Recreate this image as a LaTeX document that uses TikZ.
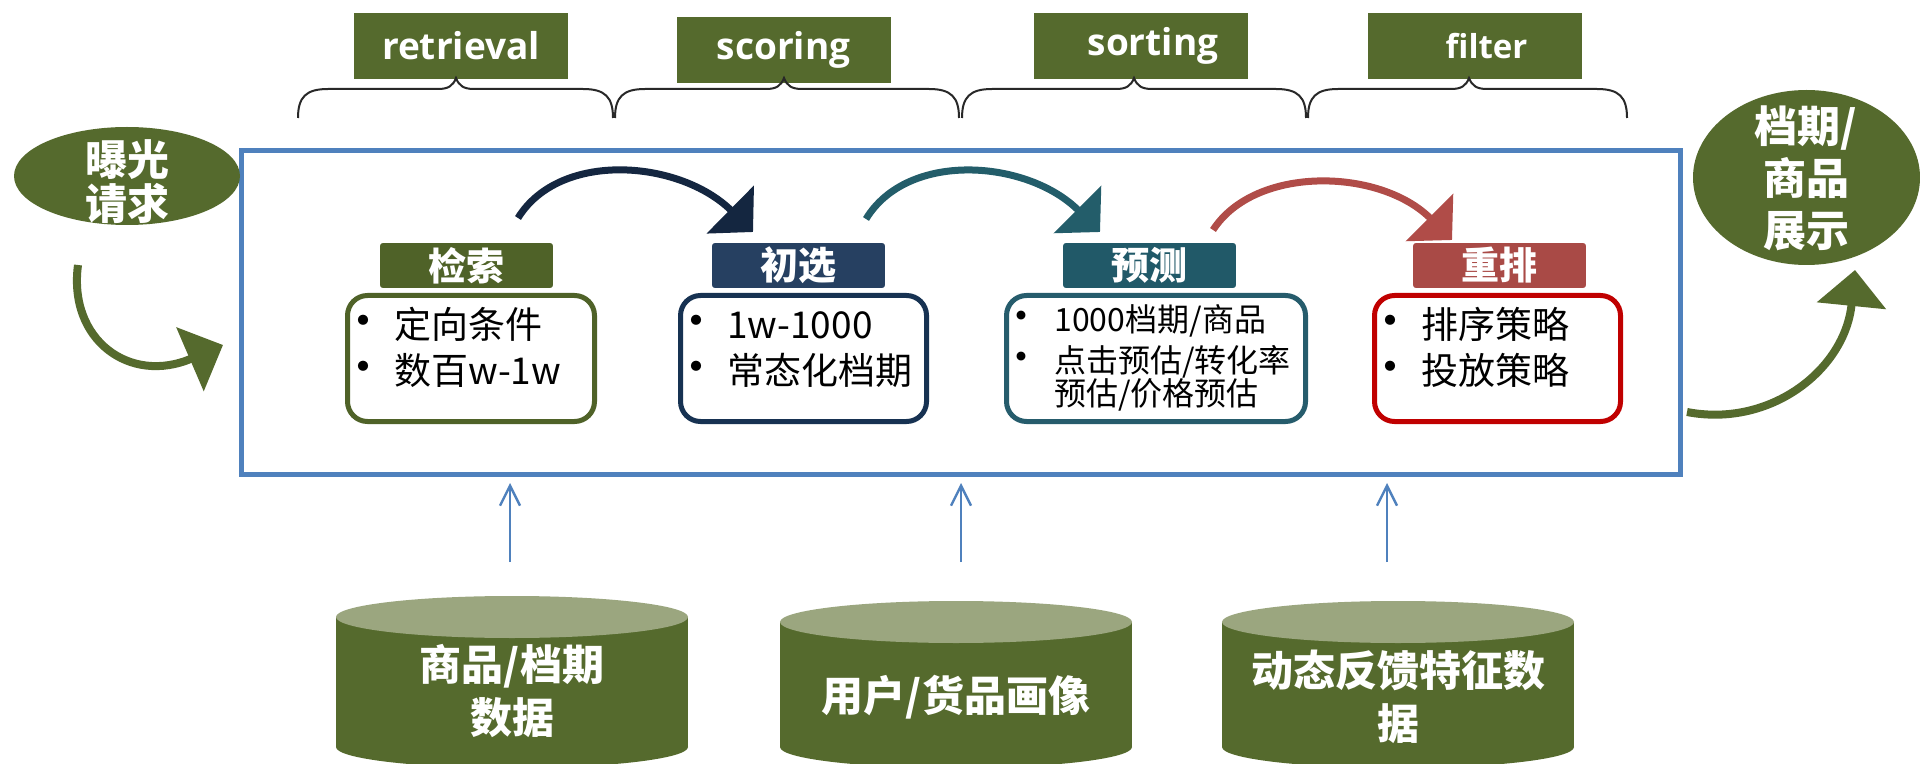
\documentclass[tikz,border=0pt]{standalone}
\usepackage{fontspec}
\setmainfont{Noto Sans CJK SC}
\newfontfamily\tagfont{Open Sans}
\usetikzlibrary{arrows.meta,shapes.geometric,calc}

\definecolor{olive}{RGB}{85,106,45}
\definecolor{hdrolive}{RGB}{79,98,40}
\definecolor{cyltop}{RGB}{155,166,127}
\definecolor{frameblue}{RGB}{79,129,189}
\definecolor{navyhdr}{RGB}{38,64,97}
\definecolor{navyline}{RGB}{23,50,82}
\definecolor{navyarc}{RGB}{20,38,64}
\definecolor{tealhdr}{RGB}{33,89,104}
\definecolor{tealline}{RGB}{38,92,108}
\definecolor{tealarc}{RGB}{35,93,106}
\definecolor{redhdr}{RGB}{169,74,70}
\definecolor{redline}{RGB}{192,0,0}
\definecolor{redarc}{RGB}{176,76,72}
\definecolor{braceg}{RGB}{40,40,40}

\newcommand{\topbrace}[3]{%
 \draw[bracepath] (#1,118) .. controls (#1,97) and ({#1+8},89) .. ({#1+30},89) -- ({#2-18},89) .. controls ({#2-8},89) and ({#2-3},86) .. (#2,78) .. controls ({#2+3},86) and ({#2+8},89) .. ({#2+18},89) -- ({#3-30},89) .. controls ({#3-8},89) and (#3,97) .. (#3,118);}

\newcommand{\datacyl}[3]{%
 \fill[olive] ({#1-#2},#3) rectangle ({#1+#2},747);
 \fill[olive] (#1,747) ellipse [x radius=#2, y radius=21];
 \fill[cyltop] (#1,#3) ellipse [x radius=#2, y radius=21];}

% bullet centred on the anchor point, text starting 31px (15.5pt) to its right
\newcommand{\bitem}[1]{\makebox[0pt][c]{\fontsize{24}{24}\selectfont •}\hspace{15.5pt}#1}
\newcommand{\bitemsm}[1]{\makebox[0pt][c]{\fontsize{21}{21}\selectfont •}\hspace{16.5pt}#1}

\begin{document}
\begin{tikzpicture}[x=0.5pt,y=-0.5pt,
  tagbox/.style={fill=olive, minimum width=107pt, minimum height=33pt, inner sep=0, text=white, font=\tagfont\bfseries\fontsize{18.5}{20}\selectfont},
  hdr/.style={rounded corners=2pt, minimum width=87.5pt, minimum height=23.5pt, inner sep=0, text=white, font=\bfseries\fontsize{19}{20}\selectfont, draw=white, line width=0.8pt},
  bodybox/.style={fill=white, rounded corners=10pt, line width=2.5pt, minimum height=63pt, inner sep=0},
  item/.style={anchor=base west, inner sep=0, font=\fontsize{18.5}{20}\selectfont},
  itemsm/.style={anchor=base west, inner sep=0, font=\fontsize{16}{18}\selectfont},
  flowarc/.style={line width=3.5pt, -{Triangle[width=33pt,length=16pt]}},
  bigarrow/.style={line width=4pt, draw=olive, -{Triangle[width=34pt,length=18pt]}},
  feed/.style={draw=frameblue, line width=1.2pt, -{Straight Barb[length=10pt,width=10pt]}, shorten >=3pt},
  bracepath/.style={draw=braceg, line width=1pt},
  ellnode/.style={ellipse, fill=olive, inner sep=0},
  elltext/.style={text=white, align=center, inner sep=0},
  cyltext/.style={text=white, align=center, font=\bfseries\fontsize{21}{26.5}\selectfont, inner sep=0}
]
\clip (0,0) rectangle (1920,764);
\fill[white] (0,0) rectangle (1920,764);

% stage tags
\node[tagbox] (tret) at (461,46) {retrieval};
\node[tagbox] (tsco) at (783.5,50) {scoring};
\node[tagbox] (tsor) at (1141,46) {\hspace{12pt}sorting};
\node[tagbox, font=\tagfont\bfseries\fontsize{16.5}{18}\selectfont] (tfil) at (1474.5,46) {\hspace{12pt}filter};

% braces
\topbrace{298}{456}{613}
\topbrace{615}{784}{959}
\topbrace{962}{1134}{1306}
\topbrace{1308}{1469}{1627}

% main frame
\node[draw=frameblue, line width=2.5pt, minimum width=719.5pt, minimum height=162pt, inner sep=0] (frame) at (961,312.5) {};

% body boxes
\node[bodybox, draw=hdrolive] (b1) at (471,358.5) [minimum width=123.5pt] {};
\node[bodybox, draw=navyline] (b2) at (803.5,358.5) [minimum width=123pt] {};
\node[bodybox, draw=tealline] (b3) at (1156,358.5) [minimum width=149.5pt] {};
\node[bodybox, draw=redline] (b4) at (1497.5,358.5) [minimum width=123pt] {};

% headers
\node[hdr, fill=hdrolive] (h1) at (466.5,265.5) {检索};
\node[hdr, fill=navyhdr] (h2) at (798.5,265.5) {初选};
\node[hdr, fill=tealhdr] (h3) at (1149.5,265.5) {预测};
\node[hdr, fill=redhdr] (h4) at (1499.5,265.5) {重排};

% body items
\node[item] (b1t1) at (363,339) {\bitem{定向条件}};
\node[item] (b1t2) at (363,384) {\bitem{数百w-1w}};

\node[item] (b2t1) at (696,339) {\bitem{1w-1000}};
\node[item] (b2t2) at (696,384) {\bitem{常态化档期}};

\node[itemsm] (b3t1) at (1021,332) {\bitemsm{1000档期/商品}};
\node[itemsm] (b3t2) at (1021,372) {\bitemsm{点击预估/转化率}};
\node[itemsm] (b3t3) at (1054,405) {预估/价格预估};

\node[item] (b4t1) at (1390,339) {\bitem{排序策略}};
\node[item] (b4t2) at (1390,384) {\bitem{投放策略}};

% flow arcs
\coordinate (a1s) at (518,218);
\coordinate (a1e) at (753,232);
\coordinate (a2s) at (866,219);
\coordinate (a2e) at (1100,232);
\coordinate (a3s) at (1213,230);
\coordinate (a3e) at (1452,240);
\draw[flowarc, navyarc] (a1s) .. controls (560,150) and (680,160) .. (a1e);
\draw[flowarc, tealarc] (a2s) .. controls (908,150) and (1028,160) .. (a2e);
\draw[flowarc, redarc] (a3s) .. controls (1255,165) and (1380,168) .. (a3e);

% request ellipse and output ellipse
\node[ellnode, minimum width=113pt, minimum height=49pt] (req) at (127,176) {};
\node[elltext, font=\bfseries\fontsize{21}{22}\selectfont] (reqt) at (127,181.5) {曝光\\请求};
\node[ellnode, minimum width=113.5pt, minimum height=87.5pt] (out) at (1806.5,177.5) {};
\node[elltext, font=\bfseries\fontsize{21.5}{26}\selectfont] (outt) at (1806,178.5) {档期/\\商品\\展示};

% big green arrows
\coordinate (ls) at (78,265);
\coordinate (le) at (223,345);
\draw[bigarrow] (ls) .. controls (68,340) and (130,385) .. (le);
\coordinate (rs) at (1687,412);
\coordinate (re) at (1855,270);
\draw[bigarrow] (rs) .. controls (1770,428) and (1845,370) .. (re);

% data cylinders
\datacyl{512}{176}{617}
\datacyl{956}{176}{622}
\datacyl{1398}{176}{622}
\node[cyltext] (d1) at (512,691.5) {商品/档期\\数据};
\node[cyltext] (d2) at (956,697) {用户/货品画像};
\node[cyltext] (d3) at (1398,696.5) {动态反馈特征数\\据};

% feed arrows
\coordinate (s1) at (510,562);
\coordinate (s2) at (961,562);
\coordinate (s3) at (1387,562);
\draw[feed] (s1) -- (s1 |- frame.south);
\draw[feed] (s2) -- (s2 |- frame.south);
\draw[feed] (s3) -- (s3 |- frame.south);
\end{tikzpicture}
\end{document}
